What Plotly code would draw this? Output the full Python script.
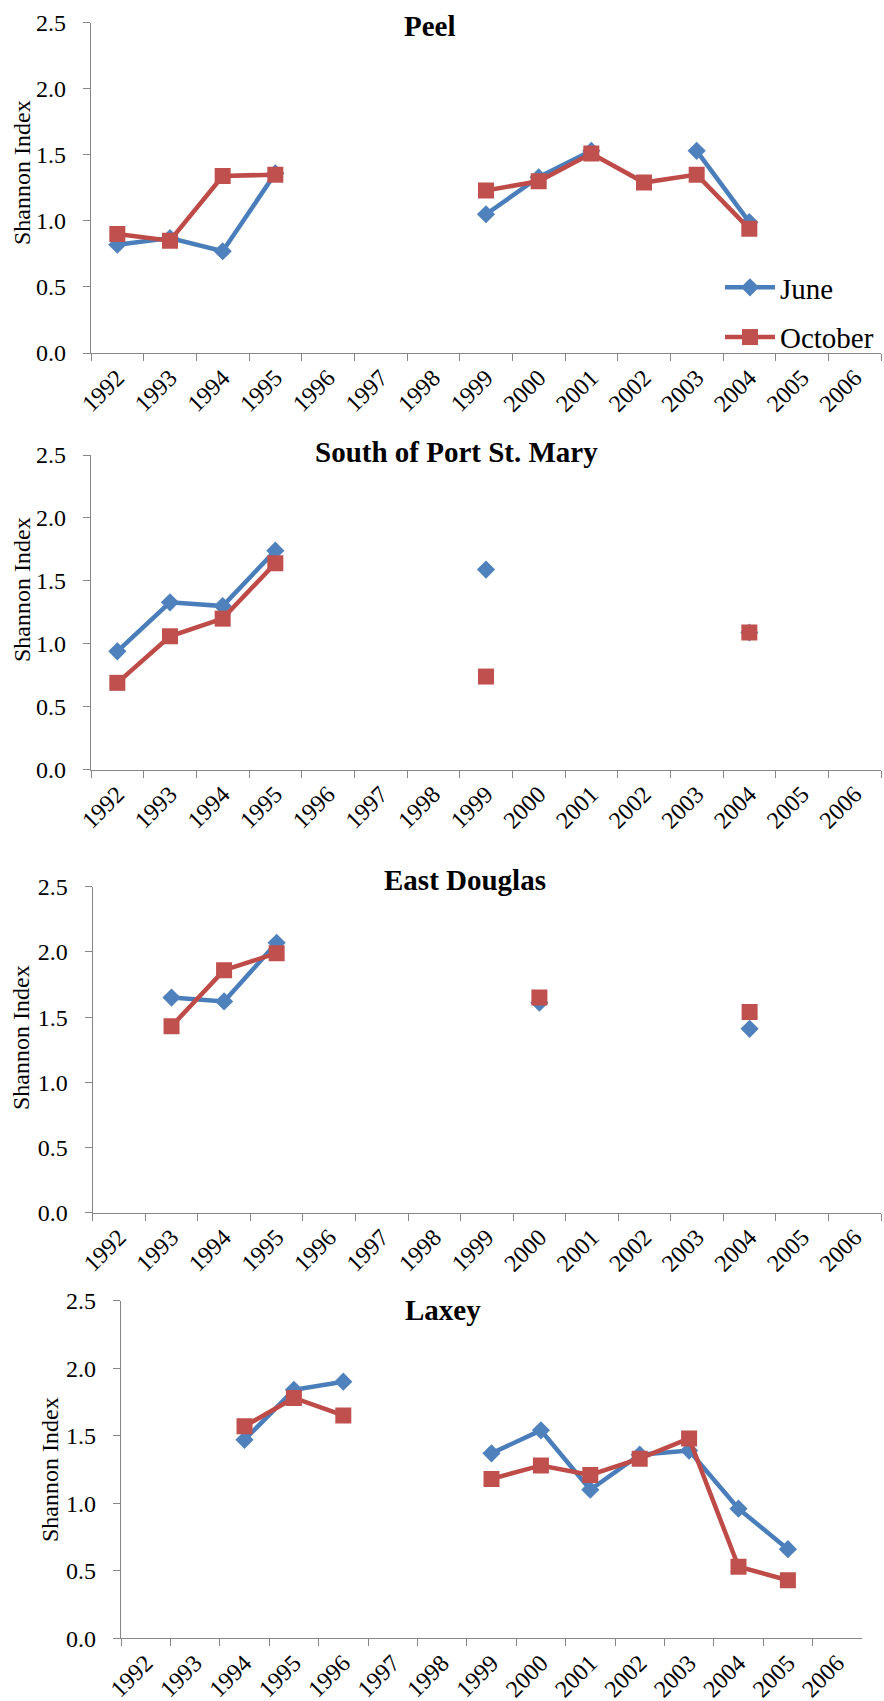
import plotly.graph_objects as go

# Survey years (category axis)
years = [str(y) for y in range(1992, 2007)]

# Shannon diversity index per site, June and October surveys (None = no survey)
peel_june = [0.82, 0.87, 0.77, 1.36, None, None, None, 1.05, 1.33, 1.53, None, 1.53, 0.99, None, None]
peel_oct = [0.90, 0.85, 1.34, 1.35, None, None, None, 1.23, 1.30, 1.51, 1.29, 1.35, 0.94, None, None]

spm_june = [0.94, 1.33, 1.30, 1.74, None, None, None, 1.59, None, None, None, None, 1.09, None, None]
spm_oct = [0.69, 1.06, 1.20, 1.64, None, None, None, 0.74, None, None, None, None, 1.09, None, None]

ed_june = [None, 1.65, 1.62, 2.07, None, None, None, None, 1.61, None, None, None, 1.41, None, None]
ed_oct = [None, 1.43, 1.86, 1.99, None, None, None, None, 1.65, None, None, None, 1.54, None, None]

lax_june = [None, None, 1.47, 1.84, 1.90, None, None, 1.37, 1.54, 1.10, 1.36, 1.39, 0.96, 0.66, None]
lax_oct = [None, None, 1.57, 1.78, 1.65, None, None, 1.18, 1.28, 1.21, 1.33, 1.48, 0.53, 0.43, None]

sites = ["Peel", "South of Port St. Mary", "East Douglas", "Laxey"]
june_series = [peel_june, spm_june, ed_june, lax_june]
oct_series = [peel_oct, spm_oct, ed_oct, lax_oct]

y_ticks = [0.0, 0.5, 1.0, 1.5, 2.0, 2.5]

# ---- layout geometry (pixels) ----
W, H = 884, 1701
# plot areas: left, right, top, bottom
boxes = [
    (91, 881, 22.7, 353),
    (91, 881, 455, 769.7),
    (92.7, 881, 886.7, 1212.7),
    (121, 862, 1300.7, 1638.3),
]
# title centres (x, y)
title_pos = [(430, 26), (456, 452), (465, 880), (443, 1310)]
# y-axis title centres (x, y)
ytitle_pos = [(22, 173), (22, 590), (20.5, 1037.5), (50, 1470)]

BLUE_LINE, BLUE_MK = "#4A7EBB", "#4F81BD"
RED_LINE, RED_MK = "#BE4B48", "#C0504D"
AXIS = "#868686"
FONT = "Liberation Serif"

fig = go.Figure()
layout = dict(
    width=W, height=H,
    margin=dict(l=0, r=0, t=0, b=0, pad=0, autoexpand=False),
    paper_bgcolor="white", plot_bgcolor="white",
    font=dict(family=FONT, color="black"),
    annotations=[],
)

for i, (site, jv, ov) in enumerate(zip(sites, june_series, oct_series)):
    n = "" if i == 0 else str(i + 1)
    xa, ya = "x" + n, "y" + n
    first = i == 0
    fig.add_trace(go.Scatter(
        x=years, y=jv, xaxis=xa, yaxis=ya, name="June", mode="lines+markers",
        line=dict(color=BLUE_LINE, width=4.5),
        marker=dict(symbol="diamond", size=14, color=BLUE_MK),
        showlegend=first, legendgroup="june", hoverinfo="skip",
    ))
    fig.add_trace(go.Scatter(
        x=years, y=ov, xaxis=xa, yaxis=ya, name="October", mode="lines+markers",
        line=dict(color=RED_LINE, width=4.5),
        marker=dict(symbol="square", size=16, color=RED_MK),
        showlegend=first, legendgroup="october", hoverinfo="skip",
    ))

    l, r, t, b = boxes[i]
    layout["xaxis" + n] = dict(
        domain=[l / W, r / W], anchor=ya, type="category",
        categoryorder="array", categoryarray=years, range=[-0.5, 14.5],
        tickson="boundaries", ticks="outside", ticklen=7, tickwidth=1.3,
        tickcolor=AXIS, showline=True, linecolor=AXIS, linewidth=1.3,
        showgrid=False, zeroline=False, tickangle=-45, automargin=False,
        tickfont=dict(family=FONT, size=24, color="black"),
        fixedrange=True,
    )
    layout["yaxis" + n] = dict(
        domain=[1 - b / H, 1 - t / H], anchor=xa, range=[0, 2.5],
        tickvals=y_ticks, tickformat=".1f", ticks="outside", ticklen=7,
        tickwidth=1.3, tickcolor=AXIS, showline=True, linecolor=AXIS,
        linewidth=1.3, showgrid=False, zeroline=False, automargin=False,
        tickfont=dict(family=FONT, size=24, color="black"),
        ticklabelstandoff=12, fixedrange=True,
    )

    tx, ty = title_pos[i]
    layout["annotations"].append(dict(
        text="<b>%s</b>" % site, x=tx / W, y=1 - ty / H, xref="paper", yref="paper",
        xanchor="center", yanchor="middle", showarrow=False,
        font=dict(family=FONT, size=29, color="black"),
    ))
    yx, yy = ytitle_pos[i]
    layout["annotations"].append(dict(
        text="Shannon Index", x=yx / W, y=1 - yy / H, xref="paper", yref="paper",
        xanchor="center", yanchor="middle", textangle=-90, showarrow=False,
        font=dict(family=FONT, size=24, color="black"),
    ))

layout["legend"] = dict(
    x=720 / W, y=1 - 262 / H, xanchor="left", yanchor="top",
    bgcolor="rgba(0,0,0,0)", font=dict(family=FONT, size=29, color="black"),
    itemwidth=50, tracegroupgap=9, traceorder="grouped",
)

fig.update_layout(**layout)
fig.write_html("out.html")
